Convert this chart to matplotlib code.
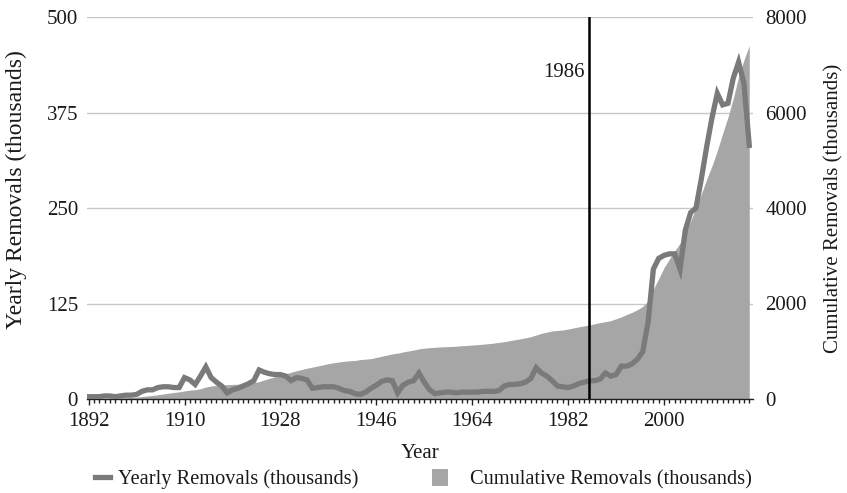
import matplotlib
matplotlib.use("Agg")
import matplotlib.pyplot as plt
from matplotlib.lines import Line2D
from matplotlib.patches import Patch

plt.rcParams['font.family'] = ['Liberation Serif', 'DejaVu Serif']

years = list(range(1892, 2017))

yearly = [
    3, 3, 3, 4, 4, 3, 4, 5, 5, 6,            # 1892-1901
    10, 12, 12, 15, 16, 16, 15, 15, 28, 25,  # 1902-1911
    19, 30, 42, 28, 22, 17, 8, 12, 14, 17,   # 1912-1921
    20, 24, 38, 35, 33, 32, 32, 30, 24, 28,  # 1922-1931
    27, 25, 14, 15, 16, 16, 16, 14, 11, 10,  # 1932-1941
    7, 6, 9, 14, 18, 23, 25, 24, 8, 18,      # 1942-1951
    22, 24, 34, 22, 12, 7, 8, 9, 9, 8,       # 1952-1961
    9, 9, 9, 9, 10, 10, 10, 11, 17, 19,      # 1962-1971
    19, 20, 22, 27, 41, 34, 30, 24, 17, 16,  # 1972-1981
    15, 17, 20, 22, 24, 24, 26, 34, 30, 32,  # 1982-1991
    43, 43, 46, 52, 62, 100, 170, 184, 188, 190,  # 1992-2001
    190, 170, 221, 244, 250, 288, 330, 368, 400, 385,  # 2002-2011
    387, 420, 441, 413, 332,                 # 2012-2016
]

cumulative = [
    3, 6, 9, 13, 17, 20, 24, 29, 34, 40,             # 1892-1901
    50, 62, 74, 89, 105, 121, 136, 150, 170, 185,    # 1902-1911
    195, 215, 250, 272, 285, 295, 300, 305, 310, 315,  # 1912-1921
    330, 345, 363, 400, 435, 465, 497, 528, 560, 590,  # 1922-1931
    618, 645, 668, 690, 715, 740, 758, 775, 790, 800,  # 1932-1941
    808, 825, 835, 845, 870, 895, 920, 945, 960, 985,  # 1942-1951
    1005, 1025, 1050, 1065, 1075, 1082, 1090, 1095, 1100, 1105,  # 1952-1961
    1115, 1122, 1130, 1138, 1148, 1158, 1170, 1185, 1200, 1220,  # 1962-1971
    1240, 1260, 1280, 1305, 1340, 1375, 1400, 1425, 1435, 1445,  # 1972-1981
    1465, 1488, 1510, 1530, 1550, 1575, 1600, 1620, 1640, 1680,  # 1982-1991
    1720, 1770, 1815, 1870, 1940, 2050, 2300, 2520, 2750, 2930,  # 1992-2001
    3100, 3260, 3480, 3730, 4000, 4290, 4600, 4880, 5200, 5560,  # 2002-2011
    5900, 6300, 6750, 7100, 7400,                    # 2012-2016
]

xtick_years = [1892, 1910, 1928, 1946, 1964, 1982, 2000]
left_ticks = [0, 125, 250, 375, 500]
right_ticks = [0, 2000, 4000, 6000, 8000]
marker_year = 1986
marker_label = "1986"

line_color = '#7a7a7a'
area_color = '#a6a6a6'
text_color = '#1a1a1a'

W, H = 847, 493
fig = plt.figure(figsize=(W / 100, H / 100), dpi=100)
left_px, right_px, top_px, bottom_px = 87, 753, 17, 399
ax_w, ax_h = right_px - left_px, bottom_px - top_px
ax_c = fig.add_axes([left_px / W, 1 - bottom_px / H, ax_w / W, ax_h / H])
ax_y = ax_c.twinx()

# cumulative area (right axis)
ax_c.fill_between(years, cumulative, 0, color=area_color, linewidth=0, zorder=2)
ax_c.set_ylim(0, 8000)
ax_c.set_yticks(right_ticks)
ax_c.yaxis.tick_right()
ax_c.yaxis.set_label_position('right')
ax_c.set_axisbelow(True)
ax_c.grid(axis='y', color='#c8c8c8', linewidth=1.0, zorder=0)
ax_c.set_xlim(1891.7, 2016.7)
ax_c.set_xticks(xtick_years)
ax_c.set_xticks(years, minor=True)
ax_c.tick_params(axis='x', which='major', length=4, width=1, color='#222222',
                 labelsize=15, labelcolor=text_color, pad=5)
ax_c.tick_params(axis='x', which='minor', length=3, width=1, color='#222222')
ax_c.tick_params(axis='y', length=0, labelsize=15, labelcolor=text_color, pad=9)
ax_c.set_ylabel('Cumulative Removals (thousands)', fontsize=15,
                color=text_color, labelpad=12)
ax_c.set_xlabel('Year', fontsize=15, color=text_color, labelpad=10)

# yearly line (left axis)
ax_y.plot(years, yearly, color=line_color, linewidth=3.8,
          solid_joinstyle='miter', zorder=4)
ax_y.axvline(marker_year, color='black', linewidth=1.8, zorder=5)
ax_y.text(marker_year - 0.8, 428, marker_label, ha='right', va='center',
          fontsize=15, color=text_color)
ax_y.set_ylim(0, 500)
ax_y.set_yticks(left_ticks)
ax_y.yaxis.tick_left()
ax_y.yaxis.set_label_position('left')
ax_y.tick_params(axis='y', length=0, labelsize=15, labelcolor=text_color, pad=6.5)
ax_y.set_ylabel('Yearly Removals (thousands)', fontsize=17, color=text_color)
ax_y.yaxis.set_label_coords((27 - left_px) / ax_w, (bottom_px - 190) / ax_h)

for a in (ax_c, ax_y):
    for s in ('left', 'right', 'top'):
        a.spines[s].set_visible(False)
    a.spines['bottom'].set_color('#222222')
    a.spines['bottom'].set_linewidth(1.0)
ax_y.spines['bottom'].set_visible(False)

fs_leg = 14.7
em = fs_leg * 100 / 72
ly = 1 - 479 / H
leg1 = fig.legend([Line2D([0], [0], color=line_color, linewidth=3.8)],
                  ['Yearly Removals (thousands)'], loc='center left',
                  bbox_to_anchor=(95 / W, ly), frameon=False, fontsize=fs_leg,
                  handlelength=15 / em, handletextpad=8 / em, borderpad=0,
                  borderaxespad=0, labelcolor=text_color)
leg2 = fig.legend([Patch(facecolor=area_color, edgecolor='none')],
                  ['Cumulative Removals (thousands)'], loc='center left',
                  bbox_to_anchor=(432 / W, ly), frameon=False, fontsize=fs_leg,
                  handlelength=16 / em, handleheight=18 / em,
                  handletextpad=22 / em, borderpad=0,
                  borderaxespad=0, labelcolor=text_color)

fig.savefig('out.png', dpi=100, facecolor='white')
